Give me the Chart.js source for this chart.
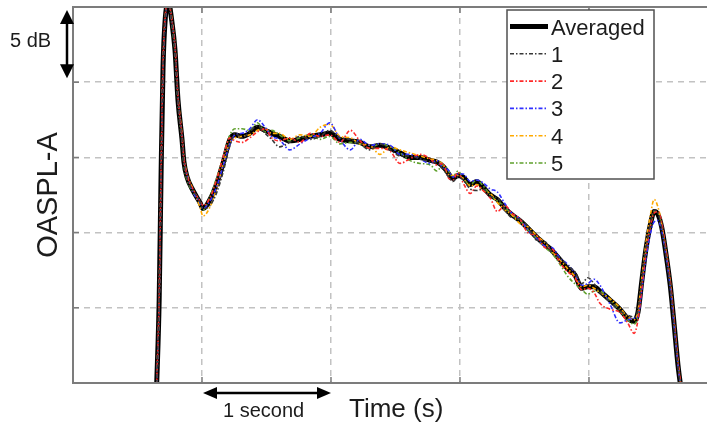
<!DOCTYPE html>
<html>
<head>
<meta charset="utf-8">
<title>OASPL-A</title>
<script src="https://cdn.jsdelivr.net/npm/chart.js@4.4.1/dist/chart.umd.min.js"></script>
<style>
  html, body { margin: 0; padding: 0; background: #fff; }
  #wrap { position: relative; width: 707px; height: 425px; overflow: hidden; }
</style>
</head>
<body>
<div id="wrap"><canvas id="oaspl-chart" width="707" height="425"></canvas></div>
<script>
/* ============================================
   OASPL-A over time: five runs and their average
   ============================================ */

// time (s), shared by every series
const timeS = [
  0.648, 0.668, 0.683, 0.698, 0.715, 0.74, 0.767, 0.791, 0.814, 0.845,
  0.86, 0.884, 0.93, 0.984, 1.008, 1.062, 1.116, 1.163, 1.217, 1.256,
  1.31, 1.37, 1.43, 1.49, 1.54, 1.60, 1.68, 1.76, 1.84, 1.915,
  1.99, 2.07, 2.15, 2.225, 2.30, 2.38, 2.46, 2.535, 2.61, 2.69,
  2.77, 2.82, 2.87, 2.905, 2.945, 2.985, 3.025, 3.08, 3.13, 3.18,
  3.235, 3.29, 3.35, 3.40, 3.465, 3.525, 3.595, 3.66, 3.715, 3.775,
  3.835, 3.89, 3.945, 3.99, 4.04, 4.085, 4.165, 4.24, 4.30, 4.35,
  4.38, 4.41, 4.44, 4.475, 4.505, 4.535, 4.565, 4.595, 4.63, 4.66,
  4.69, 4.715
];

// level in dB above the bottom of the axis
const averaged = [
  -0.3, 5.5, 14.0, 21.0, 24.2, 25.3, 24.0, 22.1, 18.8, 16.2,
  14.7, 13.7, 12.8, 12.0, 11.6, 12.2, 13.3, 14.6, 16.2, 16.5,
  16.4, 16.6, 17.0, 16.8, 16.6, 16.4, 16.1, 16.2, 16.4, 16.5,
  16.6, 16.2, 16.1, 16.0, 15.7, 15.8, 15.6, 15.3, 15.0, 15.0,
  14.8, 14.7, 14.4, 14.0, 13.6, 13.8, 13.7, 13.2, 13.4, 13.0,
  12.5, 12.2, 11.6, 11.2, 10.8, 10.3, 9.7, 9.2, 8.8, 8.2,
  7.6, 7.2, 6.3, 6.4, 6.4, 6.1, 5.5, 4.9, 4.3, 4.1,
  4.7, 6.8, 8.8, 10.5, 11.4, 11.2, 10.3, 8.7, 6.5, 3.9,
  1.2, -0.5
];

const run1 = [
  -0.3, 5.6, 14.1, 21.1, 24.3, 25.3, 23.9, 22.0, 18.7, 16.1,
  14.6, 13.6, 12.8, 12.1, 11.6, 11.8, 12.7, 14.0, 15.8, 16.6,
  16.3, 16.7, 17.1, 16.6, 16.2, 15.7, 16.0, 16.4, 16.2, 16.4,
  16.8, 16.3, 16.2, 15.9, 15.5, 15.9, 15.5, 15.1, 15.1, 14.9,
  14.7, 14.6, 14.2, 13.8, 13.4, 13.7, 13.5, 12.9, 12.8, 12.9,
  12.4, 12.3, 11.5, 11.0, 10.9, 10.4, 9.5, 9.4, 8.6, 8.3,
  7.8, 7.4, 6.6, 7.0, 6.6, 6.0, 5.4, 4.8, 4.5, 4.4,
  4.9, 6.9, 8.9, 10.6, 11.5, 11.3, 10.3, 8.6, 6.4, 3.8,
  1.1, -0.6
];

const run2 = [
  -0.2, 5.7, 14.2, 21.2, 24.4, 25.3, 24.1, 22.3, 19.0, 16.4,
  14.9, 13.8, 12.9, 12.1, 11.8, 12.3, 13.6, 15.0, 16.3, 16.1,
  16.0, 16.3, 16.7, 16.9, 16.3, 16.1, 16.3, 16.0, 16.6, 16.4,
  16.5, 16.0, 16.8, 16.1, 15.6, 15.6, 15.4, 14.6, 14.9, 15.2,
  14.9, 14.5, 14.6, 13.7, 13.5, 14.0, 13.3, 12.6, 13.1, 12.8,
  12.3, 11.4, 11.8, 11.3, 10.9, 10.0, 9.8, 9.0, 8.9, 8.0,
  7.4, 7.0, 6.2, 6.3, 6.0, 5.3, 4.9, 4.7, 4.0, 3.3,
  4.2, 6.4, 8.6, 10.4, 11.3, 11.4, 10.6, 9.0, 6.8, 4.2,
  1.5, -0.3
];

const run3 = [
  -0.3, 5.4, 13.9, 20.9, 24.1, 25.3, 24.0, 22.2, 18.9, 16.3,
  14.8, 13.8, 12.7, 12.0, 11.6, 12.1, 13.1, 14.4, 15.9, 16.5,
  16.6, 16.9, 17.5, 17.0, 16.4, 16.2, 15.5, 15.9, 16.3, 16.6,
  17.3, 16.2, 15.5, 16.2, 15.8, 15.9, 15.8, 15.2, 15.2, 14.9,
  14.6, 14.8, 14.3, 14.2, 13.7, 13.9, 13.9, 13.4, 13.5, 13.3,
  12.9, 12.7, 11.9, 11.3, 10.9, 10.2, 9.6, 9.1, 9.0, 8.3,
  7.9, 7.3, 6.5, 6.6, 6.9, 6.5, 5.2, 4.0, 4.2, 4.3,
  4.4, 6.2, 8.2, 9.9, 10.7, 10.8, 10.1, 8.6, 6.4, 3.9,
  1.2, -0.5
];

const run4 = [
  -0.3, 5.6, 14.1, 21.1, 24.3, 25.3, 24.2, 22.4, 19.1, 16.5,
  15.0, 13.9, 12.9, 11.7, 11.1, 11.7, 13.0, 14.5, 16.0, 16.3,
  16.4, 16.5, 16.8, 16.9, 16.6, 16.6, 16.2, 16.5, 16.4, 17.0,
  17.2, 16.4, 16.3, 15.9, 15.8, 15.2, 15.7, 15.5, 15.3, 15.1,
  14.9, 14.8, 14.5, 13.9, 13.8, 13.8, 13.6, 13.1, 13.2, 12.8,
  12.6, 12.0, 11.5, 11.2, 10.6, 10.4, 9.8, 9.3, 8.7, 8.2,
  7.6, 7.1, 6.4, 6.5, 6.3, 6.0, 5.6, 5.0, 4.4, 4.2,
  4.8, 7.0, 9.2, 11.1, 12.2, 11.7, 10.5, 8.8, 6.6, 4.0,
  1.3, -0.4
];

const run5 = [
  -0.3, 5.5, 14.0, 21.0, 24.2, 25.3, 23.8, 21.9, 18.6, 16.0,
  14.5, 13.5, 12.7, 11.9, 11.5, 12.4, 13.7, 15.0, 16.5, 16.9,
  16.9, 16.8, 17.3, 16.7, 16.8, 16.5, 16.1, 16.3, 16.5, 16.2,
  16.4, 15.9, 16.0, 15.9, 15.6, 15.9, 15.7, 15.3, 14.8, 14.6,
  14.5, 14.1, 14.5, 14.2, 13.7, 14.1, 13.6, 13.2, 13.5, 13.1,
  12.5, 12.1, 11.7, 11.2, 10.8, 10.2, 9.6, 9.0, 8.6, 7.9,
  7.1, 6.6, 6.2, 5.9, 6.1, 6.1, 5.5, 4.8, 4.2, 3.9,
  4.5, 6.7, 8.7, 10.4, 11.4, 11.3, 10.4, 8.9, 6.7, 4.1,
  1.4, -0.4
];

const runLabels = ['1', '2', '3', '4', '5'];
const runSeries = [run1, run2, run3, run4, run5];

// axis extents: 1 s per vertical grid line, 5 dB per horizontal one
const xMin = 0, xMax = 4.915, xStep = 1;
const yMin = 0, yMax = 25, yStep = 5;

const FONT = '"Liberation Sans", Arial, Helvetica, sans-serif';
const AXIS_GREY = '#7c7c7c';
const GRID_GREY = '#c2c2c2';
const TEXT_COLOR = '#1c1c1c';
const TICK_LEN = 6;
const RUN_COLORS = ['#383838', '#ff2a2a', '#3030ff', '#ffaa00', '#5fa02c'];
const RUN_DASH = [4, 2, 1.5, 2];

function toPoints(values) {
  return values.map((v, i) => ({ x: timeS[i], y: v }));
}

function drawArrow(ctx, x1, y1, x2, y2, head, half) {
  const ang = Math.atan2(y2 - y1, x2 - x1);
  const ux = Math.cos(ang), uy = Math.sin(ang);
  ctx.beginPath();
  ctx.moveTo(x1 + ux * head * 0.7, y1 + uy * head * 0.7);
  ctx.lineTo(x2 - ux * head * 0.7, y2 - uy * head * 0.7);
  ctx.stroke();
  [[x1, y1, 1], [x2, y2, -1]].forEach(([px, py, s]) => {
    ctx.beginPath();
    ctx.moveTo(px, py);
    ctx.lineTo(px + s * ux * head - uy * half, py + s * uy * head + ux * half);
    ctx.lineTo(px + s * ux * head + uy * half, py + s * uy * head - ux * half);
    ctx.closePath();
    ctx.fill();
  });
}

// frame, inward ticks, scale arrows, labels and the in-plot legend
const frameAndNotes = {
  id: 'frameAndNotes',
  afterDraw(chart) {
    const { ctx, chartArea: a, scales: { x, y } } = chart;
    ctx.save();
    ctx.setLineDash([]);

    ctx.strokeStyle = AXIS_GREY;
    ctx.lineWidth = 2;
    ctx.beginPath();
    ctx.moveTo(a.right + 2, a.top);
    ctx.lineTo(a.left, a.top);
    ctx.lineTo(a.left, a.bottom);
    ctx.lineTo(a.right + 2, a.bottom);
    ctx.stroke();

    ctx.lineWidth = 1.5;
    ctx.beginPath();
    x.ticks.forEach(t => {
      const px = x.getPixelForValue(t.value);
      ctx.moveTo(px, a.bottom); ctx.lineTo(px, a.bottom - TICK_LEN);
      ctx.moveTo(px, a.top); ctx.lineTo(px, a.top + TICK_LEN);
    });
    y.ticks.forEach(t => {
      const py = y.getPixelForValue(t.value);
      ctx.moveTo(a.left, py); ctx.lineTo(a.left + TICK_LEN, py);
    });
    ctx.stroke();

    // 1 second / 5 dB scale bars
    ctx.strokeStyle = '#000';
    ctx.fillStyle = '#000';
    ctx.lineWidth = 2.5;
    drawArrow(ctx, x.getPixelForValue(1) + 1, a.bottom + 10, x.getPixelForValue(2), a.bottom + 10, 14, 6);
    drawArrow(ctx, a.left - 6, y.getPixelForValue(25) + 3, a.left - 6, y.getPixelForValue(20) - 4, 14, 7);

    ctx.fillStyle = TEXT_COLOR;
    ctx.textBaseline = 'alphabetic';
    ctx.textAlign = 'left';
    ctx.font = `20px ${FONT}`;
    ctx.fillText('5 dB', 10, 47);
    ctx.fillText('1 second', 223, 417);
    ctx.font = `26px ${FONT}`;
    ctx.fillText('Time (s)', 349, 417);

    ctx.save();
    ctx.translate(57, (a.top + a.bottom) / 2);
    ctx.rotate(-Math.PI / 2);
    ctx.textAlign = 'center';
    ctx.font = `29px ${FONT}`;
    ctx.fillText('OASPL-A', 0, 0);
    ctx.restore();

    // legend box
    const lg = { left: 507, top: 10, width: 147, height: 169, firstRow: 16.5, rowGap: 27.3 };
    ctx.fillStyle = '#fff';
    ctx.fillRect(lg.left, lg.top, lg.width, lg.height);
    ctx.strokeStyle = '#505050';
    ctx.lineWidth = 1.5;
    ctx.strokeRect(lg.left, lg.top, lg.width, lg.height);
    ctx.font = `22px ${FONT}`;
    chart.data.datasets.forEach((ds, i) => {
      const ry = lg.top + lg.firstRow + i * lg.rowGap;
      ctx.strokeStyle = ds.borderColor;
      ctx.lineWidth = ds.borderWidth;
      ctx.setLineDash(ds.borderDash || []);
      ctx.beginPath();
      ctx.moveTo(lg.left + 3, ry);
      ctx.lineTo(lg.left + 41, ry);
      ctx.stroke();
      ctx.setLineDash([]);
      ctx.fillStyle = TEXT_COLOR;
      ctx.fillText(ds.label, lg.left + 44, ry + 8);
    });
    ctx.restore();
  }
};

const lineDefaults = {
  pointRadius: 0,
  fill: false,
  cubicInterpolationMode: 'monotone',
  clip: 0,
};

// the average goes underneath, the individual runs are drawn over it
const datasets = [
  Object.assign({
    label: 'Averaged',
    data: toPoints(averaged),
    borderColor: '#000000',
    borderWidth: 5,
    order: 1,
  }, lineDefaults),
  ...runSeries.map((vals, i) => Object.assign({
    label: runLabels[i],
    data: toPoints(vals),
    borderColor: RUN_COLORS[i],
    borderWidth: 1.6,
    borderDash: RUN_DASH,
    order: 0,
  }, lineDefaults)),
];

const gridOpts = { color: GRID_GREY, lineWidth: 1.5, drawTicks: false };

new Chart(document.getElementById('oaspl-chart'), {
  type: 'line',
  data: { datasets },
  options: {
    responsive: false,
    animation: false,
    layout: { padding: { left: 73, top: 7, right: 0, bottom: 42 } },
    plugins: { legend: { display: false }, tooltip: { enabled: false } },
    scales: {
      x: {
        type: 'linear',
        min: xMin, max: xMax,
        ticks: { display: false, stepSize: xStep, includeBounds: false },
        grid: gridOpts,
        border: { display: false, dash: [6, 5] },
      },
      y: {
        type: 'linear',
        min: yMin, max: yMax,
        ticks: { display: false, stepSize: yStep },
        grid: gridOpts,
        border: { display: false, dash: [6, 5] },
      },
    },
  },
  plugins: [frameAndNotes],
});
</script>
</body>
</html>
